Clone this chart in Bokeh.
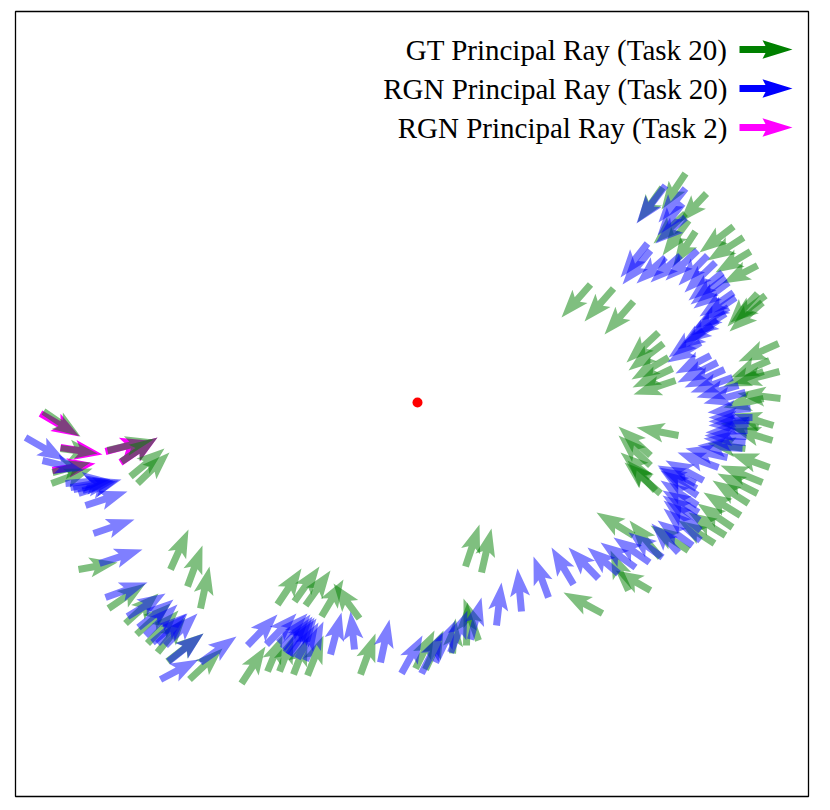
from math import hypot
from bokeh.plotting import figure
from bokeh.models import Range1d
from bokeh.core.properties import value
from bokeh.embed import file_html
from bokeh.resources import INLINE

# each ray: tail x, tail y, tip x, tip y
gt_rays = [
 (685,173,661,209),(706,193,679,222),(590,284,561,317),(613,288,584,321),(633,301,604,334),
 (695,231,673,265),(688,220,662,255),(685,213,653,243),(733,226,699,252),(743,237,707,260),
 (750,251,715,272),(757,265,722,283),(765,295,730,322),(757,293,727,326),(762,302,729,331),
 (658,332,626,362),(663,343,628,370),(668,357,631,379),(672,368,632,387),(675,380,633,394),
 (778,343,738,361),(769,360,730,377),(763,371,723,386),(779,371,733,383),(662,187,637,222),
 (678,435,636,427),(650,455,618,426),(650,465,618,435),(650,477,620,452),(660,493,624,462),
 (655,490,627,460),(769,467,730,453),(762,482,720,465),(757,493,717,473),(748,503,712,480),
 (740,515,703,492),(732,527,697,503),(725,535,688,512),(714,543,678,520),(688,550,650,525),
 (660,557,629,520),(633,535,596,512),(650,590,615,570),(628,590,610,550),(602,613,563,592),
 (780,398,737,393),(773,425,733,413),(772,440,732,428),(763,398,723,407),(758,427,720,423),
 (745,448,707,443),(465,566,479,524),(481,572,491,528),(415,668,434,630),(425,669,443,630),
 (452,653,455,618),(466,645,467,602),(478,640,463,598),(170,569,188,529),(187,586,202,545),
 (200,608,209,566),(277,604,301,568),(294,601,319,566),(305,605,330,570),(321,616,343,579),
 (359,618,333,583),(360,674,375,633),(241,683,265,646),(267,671,282,635),(279,671,293,635),
 (293,674,307,637),(307,675,323,635),(189,679,222,648),(78,569,117,562),(108,608,145,583),
 (125,623,158,593),(136,634,170,603),(147,643,178,610),(157,652,185,617),(167,661,203,633),
 (43,411,80,436),(60,448,97,453),(107,450,153,439),(121,461,157,437),(130,476,164,448),
 (137,483,169,452),(51,483,92,468),(52,472,90,462),
]
rgn20_rays = [
 (665,185,636,223),(685,188,658,222),(682,203,657,235),(685,217,655,243),(647,243,620,277),
 (650,250,622,284),(665,257,636,283),(680,255,650,282),(697,250,665,280),(707,255,678,285),
 (715,262,684,292),(722,272,688,300),(728,282,693,308),(733,292,699,316),(728,307,693,328),
 (717,320,683,343),(703,330,668,357),(700,342,667,362),(710,355,675,373),(717,362,677,382),
 (724,369,684,387),(732,377,690,392),(738,385,696,397),(745,392,703,403),(750,408,707,412),
 (752,417,708,417),(748,423,708,425),(747,430,705,432),(745,442,703,438),(742,448,697,445),
 (727,457,685,448),(718,467,677,452),(703,480,665,460),(695,483,657,465),(697,495,660,470),
 (697,505,660,480),(698,512,662,490),(700,530,663,500),(700,540,663,508),(692,545,657,520),
 (678,552,651,523),(662,557,628,532),(649,562,613,537),(635,567,600,542),(618,573,587,547),
 (598,578,568,547),(573,584,551,547),(548,597,533,556),(521,611,517,568),(496,625,501,582),
 (470,639,481,597),(450,652,467,610),(435,662,455,620),(421,673,442,632),(401,673,422,635),
 (380,662,389,619),(354,649,350,611),(330,654,341,612),(305,660,323,621),(247,645,277,614),
 (266,644,296,613),(278,642,307,613),(282,648,310,614),(285,652,312,616),(290,655,316,618),
 (297,658,318,622),(160,679,198,659),(200,662,236,636),(99,563,142,549),(105,597,147,582),
 (127,616,165,593),(138,627,173,599),(145,635,177,604),(152,642,186,613),(157,643,187,613),
 (165,645,197,613),(168,661,203,633),(25,437,65,460),(42,460,83,470),(65,483,110,479),
 (70,487,113,480),(73,489,115,481),(78,493,118,480),(82,490,121,479),(85,505,127,491),
 (93,533,134,519),
 (725,277,690,304),(735,297,701,320),(725,313,690,335),(712,325,677,349),
 (749,420,708,421),(746,436,704,435),
 (696,488,658,467),(699,520,662,495),(288,654,314,617),
]
rgn2_rays = [(40,413,79,436),(60,447,102,454),(105,451,148,440),(120,462,157,437),(52,470,95,463)]

legend_labels = ["GT Principal Ray (Task 20)", "RGN Principal Ray (Task 20)", "RGN Principal Ray (Task 2)"]
legend_colors = ["green", "blue", "magenta"]
legend_text_x = [727, 727, 727]
legend_y = [49, 88, 127]
legend_tail_x = [739, 739, 739]
legend_tip_x = [792, 792, 792]
centre_x, centre_y = [417], [402]


def arrow_shape(rays, shaft=3.5, neck=24, barb=28, half=10):
    xs, ys = [], []
    for x0, y0, x1, y1 in rays:
        n = hypot(x1 - x0, y1 - y0)
        ux, uy = (x1 - x0) / n, (y1 - y0) / n
        nx, ny = -uy, ux
        pts = [(x0 + nx * shaft, y0 + ny * shaft),
               (x1 - ux * neck + nx * shaft, y1 - uy * neck + ny * shaft),
               (x1 - ux * barb + nx * half, y1 - uy * barb + ny * half),
               (x1, y1),
               (x1 - ux * barb - nx * half, y1 - uy * barb - ny * half),
               (x1 - ux * neck - nx * shaft, y1 - uy * neck - ny * shaft),
               (x0 - nx * shaft, y0 - ny * shaft)]
        xs.append([q[0] for q in pts])
        ys.append([q[1] for q in pts])
    return xs, ys


p = figure(width=822, height=800, output_backend="svg", toolbar_location=None,
           x_range=Range1d(15, 808), y_range=Range1d(796, 11),
           min_border_left=15, min_border_right=14, min_border_top=11, min_border_bottom=4,
           x_axis_location=None, y_axis_location=None)
p.grid.visible = False
p.outline_line_color = "black"
p.outline_line_width = 1.3
p.background_fill_color = "white"

for rays, col, alpha in [(rgn2_rays, "magenta", 1.0), (gt_rays, "green", 0.5), (rgn20_rays, "blue", 0.5)]:
    xs, ys = arrow_shape(rays)
    p.patches(xs, ys, fill_color=col, fill_alpha=alpha, line_color=None)

p.scatter(centre_x, centre_y, size=10, color="red", line_color=None)

p.text(legend_text_x, legend_y, text=legend_labels, text_align="right", text_baseline="middle",
       text_font=value("Liberation Serif"), text_font_size=value("29px"), text_color="black")
for x0, x1, y, col in zip(legend_tail_x, legend_tip_x, legend_y, legend_colors):
    xs, ys = arrow_shape([(x0, y, x1, y)], shaft=3.4, neck=27, barb=30, half=9.2)
    p.patches(xs, ys, fill_color=col, line_color=None)

open("out.html", "w").write(file_html(p, INLINE))
